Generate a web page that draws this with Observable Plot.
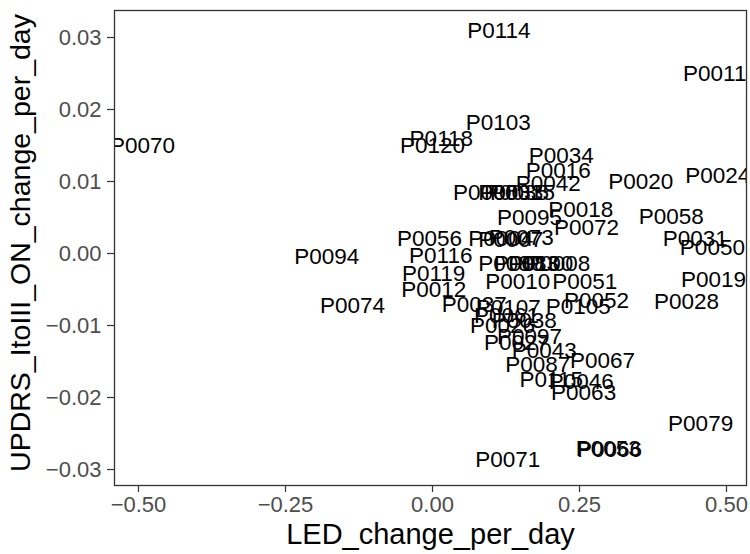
<!DOCTYPE html>
<html>
<head>
<meta charset="utf-8">
<script src="https://cdn.jsdelivr.net/npm/d3@7"></script>
<script src="https://cdn.jsdelivr.net/npm/@observablehq/plot@0.6"></script>
<style>
  html, body { margin: 0; padding: 0; background: #ffffff; }
  #chart svg { display: block; }
</style>
</head>
<body>
<div id="chart"></div>
<script>
// Patient IDs
const ids = [
  "P0114","P0011","P0070","P0103","P0118","P0120","P0034","P0016","P0042","P0020",
  "P0024","P0005","P0033","P0035","P0015","P0018","P0095","P0072","P0058","P0031",
  "P0050","P0056","P0004","P0007","P0073","P0094","P0116","P0080","P0083","P0100",
  "P0008","P0119","P0012","P0010","P0051","P0019","P0028","P0052","P0074","P0037",
  "P0107","P0105","P0061","P0038","P0026","P0097","P0027","P0043","P0087","P0067",
  "P0115","P0046","P0063","P0079","P0053","P0066","P0071"
];
// LED_change_per_day
const ledChange = [
  0.113, 0.480, -0.493, 0.112, 0.015, 0.000, 0.219, 0.214, 0.197, 0.354,
  0.485, 0.090, 0.133, 0.143, 0.153, 0.252, 0.165, 0.262, 0.406, 0.447,
  0.476, -0.005, 0.116, 0.133, 0.151, -0.180, 0.014, 0.133, 0.160, 0.184,
  0.213, 0.002, 0.002, 0.145, 0.259, 0.478, 0.432, 0.279, -0.136, 0.071,
  0.129, 0.248, 0.126, 0.156, 0.119, 0.165, 0.143, 0.190, 0.179, 0.289,
  0.202, 0.253, 0.257, 0.456, 0.299, 0.301, 0.128
];
// UPDRS_ItoIII_ON_change_per_day
const updrsChange = [
  0.0310, 0.0250, 0.0149, 0.0181, 0.0160, 0.0150, 0.0136, 0.0115, 0.0097, 0.0099,
  0.0108, 0.0085, 0.0085, 0.0085, 0.0085, 0.0061, 0.0049, 0.0036, 0.0051, 0.0021,
  0.0008, 0.0021, 0.0021, 0.0019, 0.0022, -0.0004, -0.0003, -0.0014, -0.0014, -0.0014,
  -0.0014, -0.0028, -0.0050, -0.0039, -0.0039, -0.0036, -0.0067, -0.0065, -0.0072, -0.0071,
  -0.0075, -0.0074, -0.0086, -0.0094, -0.0101, -0.0115, -0.0124, -0.0135, -0.0154, -0.0149,
  -0.0175, -0.0178, -0.0193, -0.0236, -0.0271, -0.0272, -0.0287
];
const xTicks = [-0.5, -0.25, 0, 0.25, 0.5];
const yTicks = [-0.03, -0.02, -0.01, 0, 0.01, 0.02, 0.03];
const xTitle = "LED_change_per_day";
const yTitle = "UPDRS_ItoIII_ON_change_per_day";

const data = ids.map((id, i) => ({id, x: ledChange[i], y: updrsChange[i]}));

const chart = Plot.plot({
  width: 750,
  height: 554,
  marginLeft: 114,
  marginRight: 4,
  marginTop: 10,
  marginBottom: 69,
  style: {fontFamily: "'Liberation Sans', Arial, sans-serif", background: "#ffffff"},
  x: {domain: [-0.5408, 0.534]},
  y: {domain: [-0.03222, 0.03375]},
  marks: [
    Plot.axisX(xTicks, {
      tickSize: 7, tickPadding: 4, fontSize: 22, fill: "#4d4d4d",
      stroke: "#333333", strokeWidth: 1.2,
      tickFormat: d3.format(".2f"), label: null
    }),
    Plot.axisY(yTicks, {
      tickSize: 7, tickPadding: 6, fontSize: 22, fill: "#4d4d4d",
      stroke: "#333333", strokeWidth: 1.2,
      tickFormat: d3.format(".2f"), label: null
    }),
    Plot.text(data, {
      x: "x", y: "y", text: "id", fontSize: 22.5, fill: "#000000", clip: true
    }),
    Plot.frame({stroke: "#333333", strokeWidth: 1.3}),
    Plot.text([xTitle], {frameAnchor: "bottom", dy: 58, fontSize: 29, fill: "#000000", textAnchor: "middle"}),
    Plot.text([yTitle], {frameAnchor: "left", dx: -94, dy: -5, rotate: -90, fontSize: 28.5, fill: "#000000", textAnchor: "middle"})
  ]
});
document.getElementById("chart").appendChild(chart);
</script>
</body>
</html>
